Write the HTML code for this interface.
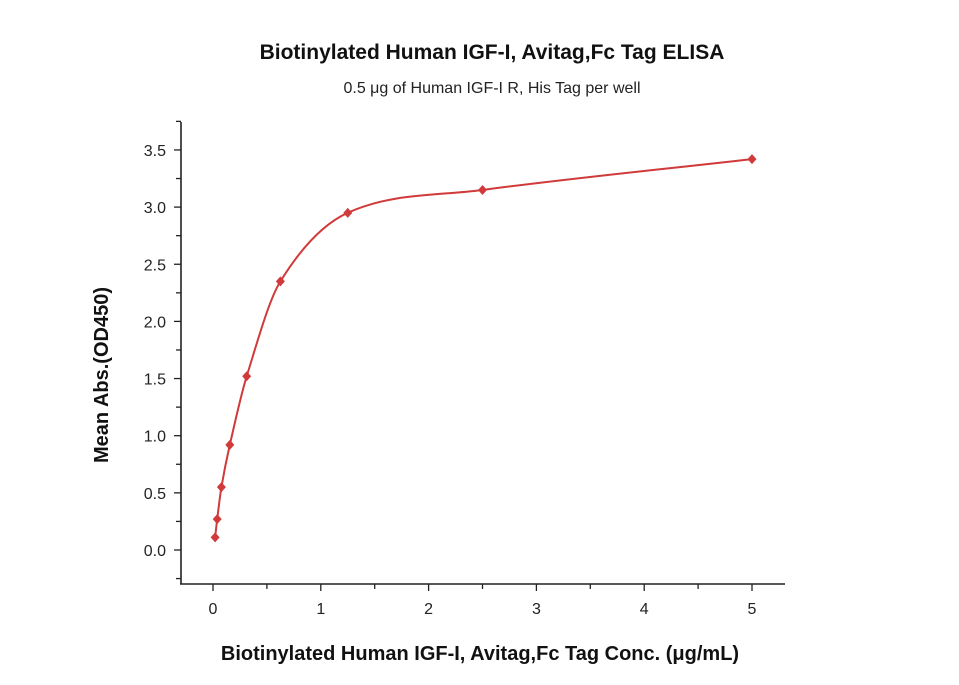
<!DOCTYPE html>
<html><head><meta charset="utf-8"><style>
body{margin:0;background:#fff;}
svg{display:block;font-family:"Liberation Sans",sans-serif;}
</style></head><body>
<svg id="chart" width="959" height="685">
<text x="492" y="59" text-anchor="middle" font-size="21" font-weight="bold" fill="#111">Biotinylated Human IGF-I, Avitag,Fc Tag ELISA</text>
<text x="492" y="93" text-anchor="middle" font-size="16" fill="#222">0.5 μg of Human IGF-I R, His Tag per well</text>
<text transform="translate(108,375) rotate(-90)" text-anchor="middle" font-size="20" font-weight="bold" fill="#111">Mean Abs.(OD450)</text>
<text x="480" y="660" text-anchor="middle" font-size="20" font-weight="bold" fill="#111">Biotinylated Human IGF-I, Avitag,Fc Tag Conc. (μg/mL)</text>
<g id="axes"></g>
<g id="series"></g>
</svg>
<script>
const xValues=[0.0195,0.039,0.078,0.156,0.3125,0.625,1.25,2.5,5];
const yValues=[0.11,0.27,0.55,0.92,1.52,2.35,2.95,3.15,3.42];
const xTicks=[0,1,2,3,4,5];
const yTicks=[0,0.5,1,1.5,2,2.5,3,3.5];
const yTickLabels=["0.0","0.5","1.0","1.5","2.0","2.5","3.0","3.5"];

const NS="http://www.w3.org/2000/svg";
const X=v=>213+v*107.8;
const Y=v=>550-v*114.3;
function mk(tag,attrs,parent){const e=document.createElementNS(NS,tag);for(const k in attrs)e.setAttribute(k,attrs[k]);parent.appendChild(e);return e;}
const ax=document.getElementById('axes'),sr=document.getElementById('series');
let l=mk('line',{x1:181,y1:122,x2:181,y2:584,stroke:'#222','stroke-width':1.6},ax);


l=mk('line',{x1:180,y1:584,x2:785,y2:584,stroke:'#222','stroke-width':1.6},ax);


for(let v=-0.25;v<=3.76;v+=0.25){
  const major=Math.abs(v*2-Math.round(v*2))<1e-6&&v>=0;
  const t=mk('line',{x1:181-(major?7:5),y1:Y(v),x2:181,y2:Y(v),stroke:'#222','stroke-width':1.3},ax);
  
  
}
yTicks.forEach((v,i)=>{const t=mk('text',{x:166,y:Y(v)+6,'text-anchor':'end','font-size':16,fill:'#222'},ax);t.textContent=yTickLabels[i];
  
  });
for(let v=0;v<=5.01;v+=0.5){
  const major=Math.abs(v-Math.round(v))<1e-6;
  const t=mk('line',{x1:X(v),y1:584,x2:X(v),y2:584+(major?7:5),stroke:'#222','stroke-width':1.3},ax);
  
  
}
xTicks.forEach(v=>{const t=mk('text',{x:X(v),y:614,'text-anchor':'middle','font-size':16,fill:'#222'},ax);t.textContent=String(v);
  
  });
// smooth Hermite spline with central-difference tangents
const n=xValues.length,m=[];
for(let i=0;i<n;i++){
  const a=Math.max(0,i-1),b=Math.min(n-1,i+1);
  m[i]=(yValues[b]-yValues[a])/(xValues[b]-xValues[a]);
}
let p='M'+X(xValues[0])+','+Y(yValues[0]);
for(let i=0;i<n-1;i++){const h=xValues[i+1]-xValues[i];
  p+=' C'+X(xValues[i]+h/3)+','+Y(yValues[i]+m[i]*h/3)+' '+X(xValues[i+1]-h/3)+','+Y(yValues[i+1]-m[i+1]*h/3)+' '+X(xValues[i+1])+','+Y(yValues[i+1]);}
const c=mk('path',{d:p,fill:'none',stroke:'#d03a3a','stroke-width':2},sr);


xValues.forEach((x,i)=>{const cx=X(x),cy=Y(yValues[i]);
  const pt=mk('polygon',{points:`${cx},${cy-5} ${cx+4.5},${cy} ${cx},${cy+5} ${cx-4.5},${cy}`,fill:'#d03a3a'},sr);
  
  });
</script>
</body></html>
